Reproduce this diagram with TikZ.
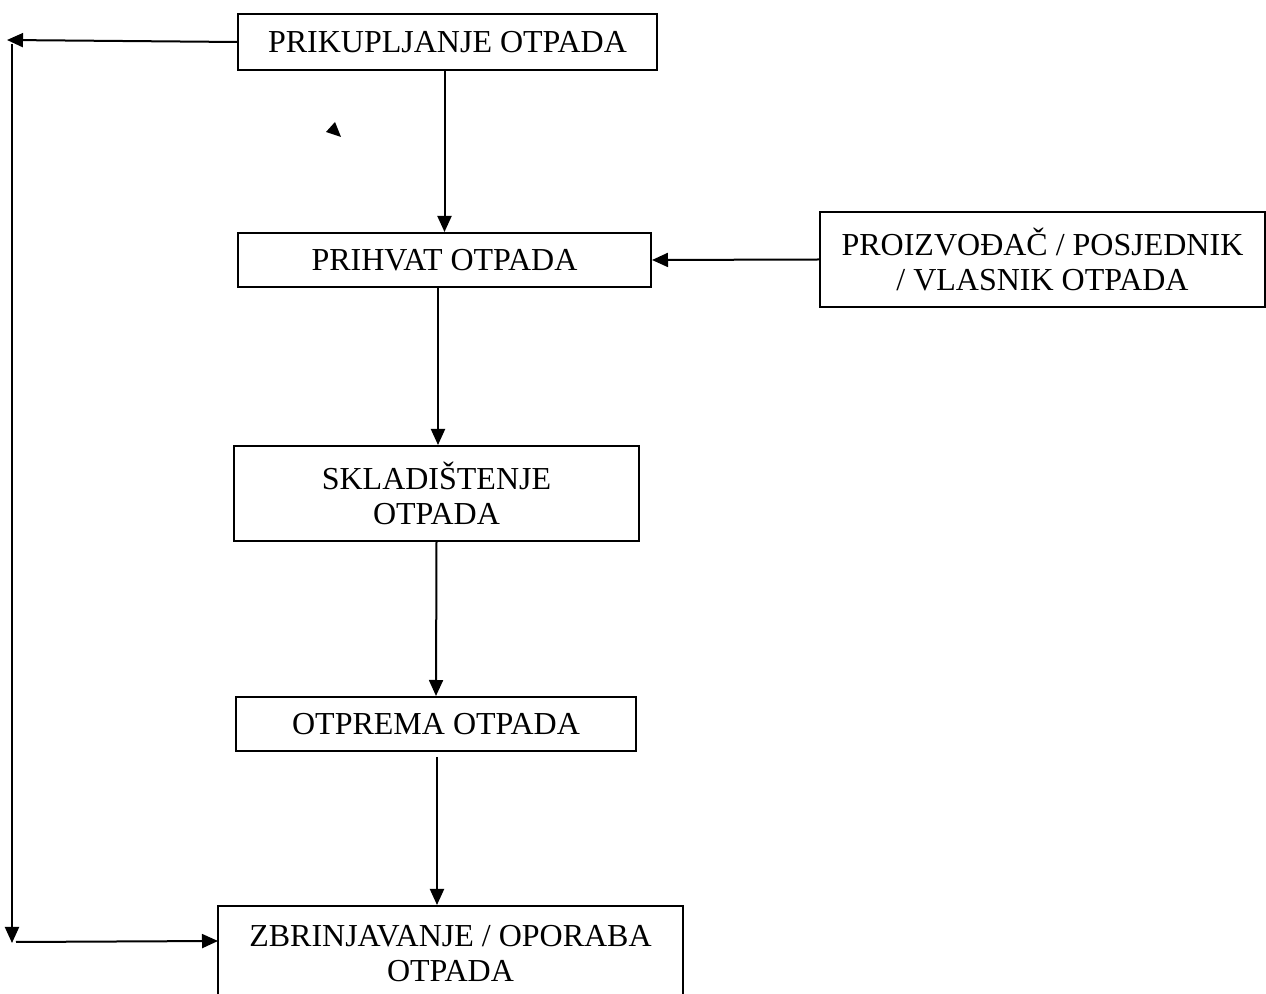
\documentclass[tikz,border=0pt]{standalone}
\usepackage{fontspec}
\setmainfont{Liberation Serif}
\usetikzlibrary{arrows.meta}

\begin{document}
\begin{tikzpicture}[x=0.5pt, y=-0.5pt,
	box/.style = {draw, line width=1pt, inner sep=0pt, align=center, font=\fontsize{16}{17.5}\selectfont},
	arr/.style = {line width=1pt, -{Triangle[length=8pt, width=7pt]}}]
	\useasboundingbox (0,0) rectangle (1266,994);
	\clip (0,0) rectangle (1266,994);
	\node[box, minimum width=209.5pt, minimum height=28pt] (prikup) at (447.5,42) {PRIKUPLJANJE OTPADA};
	\node[box, minimum width=206.5pt, minimum height=27pt] (prihvat) at (444.5,260) {PRIHVAT OTPADA};
	\node[box, minimum width=222.5pt, minimum height=47.5pt] (proizv) at (1042.5,259.5) {PROIZVOĐAČ / POSJEDNIK\\/ VLASNIK OTPADA};
	\node[box, minimum width=202.5pt, minimum height=47.5pt] (sklad) at (436.5,493.5) {SKLADIŠTENJE\\OTPADA};
	\node[box, minimum width=200pt, minimum height=27pt] (otprema) at (436,724) {OTPREMA OTPADA};
	\node[box, minimum width=232.5pt, minimum height=47.5pt] (zbrinj) at (450.5,953.5) {ZBRINJAVANJE / OPORABA\\OTPADA};
	\coordinate (lijevo) at (7,40);
	\coordinate (gore) at (12,44);
	\coordinate (dolje) at (12,943);
	\coordinate (kut) at (16,942);
	\coordinate (ulaz) at (218,941);
	\coordinate (izlaz) at (437,757);
	\draw[arr] (prikup.south -| prihvat.north) -- (prihvat.north);
	\draw[arr] (proizv.west) -- (prihvat.east);
	\draw[arr] (prihvat.south -| 438,0) -- (sklad.north -| 438,0);
	\draw[arr] (sklad.south) -- (otprema.north);
	\draw[arr] (izlaz) -- (izlaz |- zbrinj.north);
	\draw[arr] (prikup.west) -- (lijevo);
	\draw[arr] (gore) -- (dolje);
	\draw[arr] (kut) -- (ulaz);
	\fill (326,132) -- (335,122) -- (341,137) -- cycle;
\end{tikzpicture}
\end{document}
